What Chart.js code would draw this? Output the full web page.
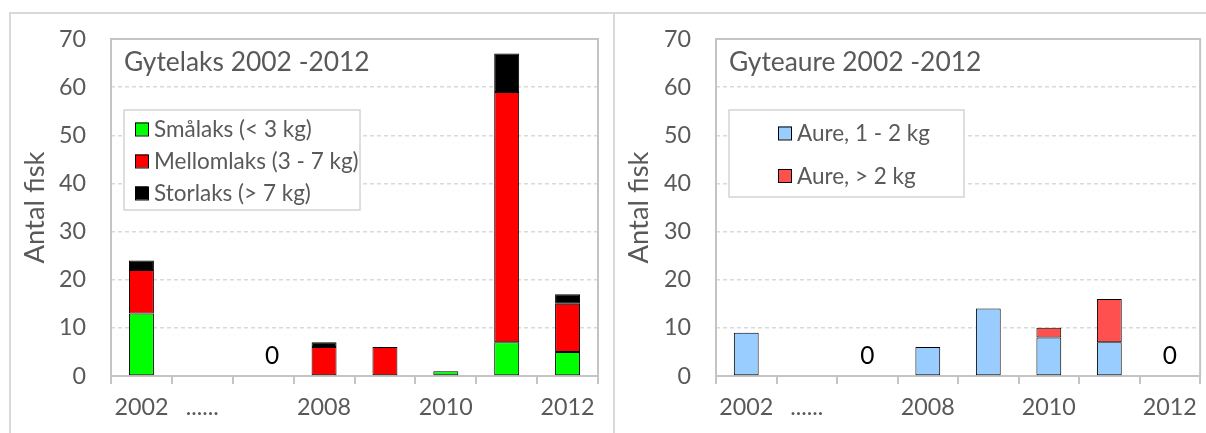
<!DOCTYPE html>
<html>
<head>
<meta charset="utf-8">
<script src="https://cdn.jsdelivr.net/npm/chart.js@4.4.1/dist/chart.umd.min.js"></script>
<style>
  html, body { margin: 0; padding: 0; background: #ffffff; }
  #wrap { position: relative; width: 1206px; height: 433px; overflow: hidden; background: #fff; }
  canvas { position: absolute; top: 0; }
  #c1 { left: 0; }
  #c2 { left: 614px; }
  .ln { position: absolute; background: #d9d9d9; pointer-events: none; }
</style>
</head>
<body>
<div id="wrap">
  <canvas id="c1" width="614" height="433"></canvas>
  <canvas id="c2" width="592" height="433"></canvas>
  <div class="ln" style="left:9px; top:12px; width:1197px; height:2px;"></div>
  <div class="ln" style="left:9px; top:12px; width:2px; height:421px;"></div>
  <div class="ln" style="left:613px; top:12px; width:2px; height:421px;"></div>
</div>
<script>
// ---------- DATA ----------
const tickLabels = ['2002', '......', '', '2008', '', '2010', '', '2012'];
const yTicks = [0, 10, 20, 30, 40, 50, 60, 70];

const laksTitle = 'Gytelaks 2002 -2012';
const laksLabels = ['Smålaks (< 3 kg)', 'Mellomlaks (3 - 7 kg)', 'Storlaks (> 7 kg)'];
const smalaks    = [13, null, null, null, null, 1, 7, 5];
const mellomlaks = [9, null, null, 6, 6, null, 52, 10];
const storlaks   = [2, null, null, 1, null, null, 8, 2];
const laksZeroIdx = [2];

const aureTitle = 'Gyteaure 2002 -2012';
const aureLabels = ['Aure, 1 - 2 kg', 'Aure, > 2 kg'];
const aureSmall = [9, null, null, 6, 14, 8, 7, null];
const aureLarge = [null, null, null, null, null, 2, 9, null];
const aureZeroIdx = [2, 7];

const yTitle = 'Antal fisk';

// ---------- STYLE ----------
const FONT = 'Lato';
const TXT = '#595959';

// pick a font size so a sample string spans a target width (font metrics differ from the original)
function fitSize(text, target) {
  const c = document.createElement('canvas').getContext('2d');
  c.font = '100px ' + FONT;
  const w = c.measureText(text).width;
  return Math.round(100 * target / w * 10) / 10;
}

const framePlugin = {
  id: 'frame',
  beforeDatasetsDraw(chart) {
    const a = chart.chartArea, ctx = chart.ctx;
    ctx.save();
    ctx.strokeStyle = '#c4c4c4';
    ctx.lineWidth = 2;
    ctx.strokeRect(a.left, a.top, a.right - a.left, a.bottom - a.top);
    ctx.restore();
  }
};

const decoPlugin = {
  id: 'deco',
  afterDatasetsDraw(chart, args, opts) {
    const a = chart.chartArea, ctx = chart.ctx;
    const xs = chart.scales.x, ys = chart.scales.y;
    ctx.save();
    // title
    ctx.fillStyle = TXT;
    ctx.font = opts.titleSize + 'px ' + FONT;
    ctx.textAlign = 'left';
    ctx.textBaseline = 'alphabetic';
    ctx.fillText(opts.title, a.left + 13, a.top + 32);
    // zero labels
    ctx.fillStyle = '#000';
    ctx.font = opts.zeroSize + 'px ' + FONT;
    ctx.textAlign = 'center';
    opts.zeroIdx.forEach(i => {
      ctx.fillText('0', xs.getPixelForValue(i) + opts.zeroDx, ys.getPixelForValue(0) - 12);
    });
    // legend box
    const L = opts.legend;
    const bx = a.left + L.dx, by = a.top + L.dy;
    ctx.fillStyle = '#fff';
    ctx.fillRect(bx, by, L.w, L.h);
    ctx.strokeStyle = '#d4d4d4';
    ctx.lineWidth = 1.5;
    ctx.strokeRect(bx, by, L.w, L.h);
    ctx.font = L.size + 'px ' + FONT;
    ctx.textAlign = 'left';
    ctx.textBaseline = 'middle';
    chart.data.datasets.forEach((ds, k) => {
      const cy = by + L.first + k * L.gap;
      const sx = bx + L.padLeft;
      ctx.fillStyle = ds.backgroundColor;
      ctx.fillRect(sx, cy - 6.5, 13, 13);
      ctx.strokeStyle = '#000';
      ctx.lineWidth = 1;
      ctx.strokeRect(sx + 0.5, cy - 6, 13, 13);
      ctx.fillStyle = TXT;
      ctx.fillText(ds.label, sx + 19, cy + 1);
    });
    ctx.restore();
  }
};

function makeChart(id, datasets, opts, S) {
  return new Chart(document.getElementById(id), {
    type: 'bar',
    data: { labels: tickLabels, datasets: datasets },
    plugins: [framePlugin, decoPlugin],
    options: {
      responsive: false,
      animation: false,
      events: [],
      layout: { padding: { left: 0, right: opts.padRight, top: 36, bottom: 0 } },
      datasets: { bar: { categoryPercentage: 1, barPercentage: 0.41, borderWidth: 1, borderColor: '#000', borderSkipped: false } },
      scales: {
        x: {
          stacked: true,
          offset: true,
          grid: { offset: true, drawOnChartArea: false, drawTicks: true, tickLength: 8, color: '#c4c4c4', lineWidth: 2 },
          border: { display: false },
          ticks: { color: TXT, font: { family: FONT, size: S.tick }, padding: 9, maxRotation: 0, autoSkip: false },
          afterFit(s) { s.height = 57; }
        },
        y: {
          stacked: true,
          min: 0, max: 70,
          afterBuildTicks(s) { s.ticks = yTicks.map(v => ({ value: v })); },
          grid: {
            drawTicks: false,
            color: c => (c.tick && (c.tick.value === 0 || c.tick.value === 70)) ? 'rgba(0,0,0,0)' : '#d9d9d9',
            lineWidth: 1.5
          },
          border: { display: false, dash: [4, 3] },
          ticks: { color: TXT, font: { family: FONT, size: S.tick }, padding: 25 },
          title: { display: true, text: yTitle, color: TXT, font: { family: FONT, size: S.ytitle }, padding: { top: opts.titlePad, bottom: 0 } },
          afterFit(s) { s.width = opts.yWidth; }
        }
      },
      plugins: {
        legend: { display: false },
        tooltip: { enabled: false },
        deco: opts.deco
      }
    }
  });
}

function init() {
  Chart.defaults.font.family = FONT;
  const S = {
    tick: fitSize('2002', 54),
    ytitle: fitSize(yTitle, 112),
    title: fitSize(laksTitle, 246),
    legend: fitSize(laksLabels[0], 158)
  };
  S.zero = S.tick * 1.05;
  const yOff = S.ytitle * 0.6;
  makeChart('c1', [
    { label: laksLabels[0], data: smalaks, backgroundColor: '#00ff00' },
    { label: laksLabels[1], data: mellomlaks, backgroundColor: '#ff0000' },
    { label: laksLabels[2], data: storlaks, backgroundColor: '#000000' }
  ], {
    padRight: 16, yWidth: 111, titlePad: Math.max(0, 35 - yOff),
    deco: { title: laksTitle, titleSize: S.title, zeroIdx: laksZeroIdx, zeroDx: 9, zeroSize: S.zero,
      legend: { dx: 13, dy: 71, w: 236, h: 100, padLeft: 11, first: 19, gap: 32, size: S.legend } }
  }, S);
  makeChart('c2', [
    { label: aureLabels[0], data: aureSmall, backgroundColor: '#99ccff' },
    { label: aureLabels[1], data: aureLarge, backgroundColor: '#ff5050' }
  ], {
    padRight: 2, yWidth: 102, titlePad: Math.max(0, 25 - yOff),
    deco: { title: aureTitle, titleSize: S.title, zeroIdx: aureZeroIdx, zeroDx: 0, zeroSize: S.zero,
      legend: { dx: 13, dy: 71, w: 235, h: 87, padLeft: 49, first: 23, gap: 42.5, size: S.legend } }
  }, S);
}

if (document.fonts && document.fonts.load) {
  Promise.all([document.fonts.load('23px Lato'), document.fonts.load('19px Lato')]).then(init, init);
} else { init(); }
</script>
</body>
</html>
